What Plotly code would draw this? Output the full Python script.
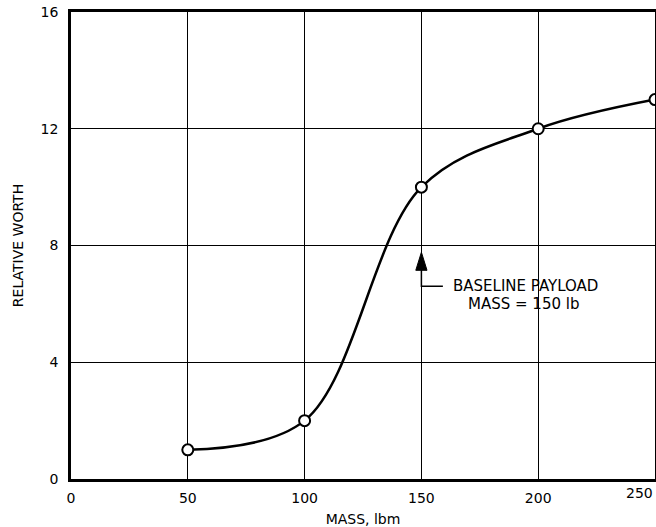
import plotly.graph_objects as go

# Relative worth of payload vs. mass
mass_lbm = [50, 100, 150, 200, 250]
relative_worth = [1, 2, 10, 12, 13]

x_ticks = [0, 50, 100, 150, 200, 250]
y_ticks = [0, 4, 8, 12, 16]

baseline_mass = 150
baseline_label = ["BASELINE PAYLOAD", "MASS = 150 lb"]

FONT = "DejaVu Sans"

fig = go.Figure()

fig.add_trace(go.Scatter(
    x=mass_lbm, y=relative_worth,
    mode="lines+markers",
    line=dict(color="black", width=2.5, shape="spline", smoothing=1.0),
    marker=dict(symbol="circle", size=11, color="white",
                line=dict(color="black", width=2)),
    showlegend=False, hoverinfo="skip",
))

# Arrow pointing at the baseline payload mass
tip_y, base_y, elbow_y = 7.77, 7.15, 6.6
half_w = 2.4
fig.add_shape(type="path",
              path=f"M {baseline_mass} {tip_y} L {baseline_mass - half_w} {base_y} "
                   f"L {baseline_mass + half_w} {base_y} Z",
              xref="x", yref="y", fillcolor="black", line=dict(color="black", width=1))
fig.add_shape(type="path",
              path=f"M {baseline_mass} {base_y} L {baseline_mass} {elbow_y} "
                   f"L {baseline_mass + 9.2} {elbow_y}",
              xref="x", yref="y", line=dict(color="black", width=1.5))

fig.add_annotation(x=baseline_mass + 12.8, y=elbow_y, xref="x", yref="y",
                   text=baseline_label[0], showarrow=False, xanchor="left",
                   yanchor="middle", font=dict(family=FONT, size=15, color="black"))
fig.add_annotation(x=baseline_mass + 19.3, y=elbow_y - 0.62, xref="x", yref="y",
                   text=baseline_label[1], showarrow=False, xanchor="left",
                   yanchor="middle", font=dict(family=FONT, size=15, color="black"))

# Last x tick label sits flush with the right edge
fig.add_annotation(x=x_ticks[-1], y=0, xref="x", yref="paper",
                   text=str(x_ticks[-1]), showarrow=False, xanchor="right",
                   yanchor="top", yshift=-4,
                   font=dict(family=FONT, size=14, color="black"))

fig.update_xaxes(
    range=[0, 250], tickvals=x_ticks[:-1], ticktext=[str(v) for v in x_ticks[:-1]],
    showgrid=True, gridcolor="black", gridwidth=1.2,
    showline=True, linecolor="black", linewidth=2.5, mirror=True,
    zeroline=False, ticks="", ticklabelstandoff=4,
    tickfont=dict(family=FONT, size=14, color="black"),
    title=dict(text="MASS, lbm", font=dict(family=FONT, size=14, color="black"),
               standoff=10),
)
fig.update_yaxes(
    range=[0, 16], tickvals=y_ticks, ticktext=[str(v) for v in y_ticks],
    showgrid=True, gridcolor="black", gridwidth=1.2,
    showline=True, linecolor="black", linewidth=2.5, mirror=True,
    zeroline=False, ticks="", ticklabelstandoff=7,
    tickfont=dict(family=FONT, size=14, color="black"),
    title=dict(text="RELATIVE WORTH", font=dict(family=FONT, size=14, color="black"),
               standoff=14),
)

fig.update_layout(
    width=656, height=527,
    margin=dict(l=71, r=1, t=12, b=48, autoexpand=False),
    paper_bgcolor="white", plot_bgcolor="white",
)

fig.write_html("out.html")
